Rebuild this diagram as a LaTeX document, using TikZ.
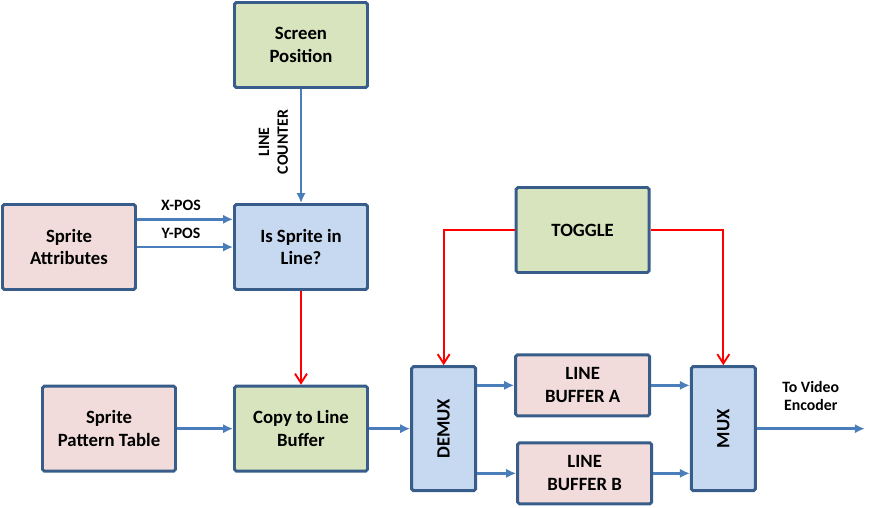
\documentclass[tikz,border=0pt]{standalone}
\usepackage{fontspec}
\setmainfont{Carlito}
\usepackage{graphicx}
\usepackage{tikz}
\usetikzlibrary{positioning,arrows.meta}
\definecolor{edgeblue}{HTML}{385D8A}
\definecolor{wireblue}{HTML}{4A7EBB}
\definecolor{boxgreen}{HTML}{D7E4BD}
\definecolor{boxpink}{HTML}{F2DCDB}
\definecolor{boxblue}{HTML}{C6D9F1}
\definecolor{tglred}{HTML}{FF0000}

\begin{document}
\begin{tikzpicture}[font=\fontsize{16}{19.5}\selectfont\bfseries,on grid,
  blk/.style={draw=edgeblue,line width=2.5pt,rounded corners=1.5pt,minimum width=3.99cm,minimum height=2.55cm,align=center,inner sep=2pt},
  grn/.style={blk,fill=boxgreen},
  pnk/.style={blk,fill=boxpink},
  blu/.style={blk,fill=boxblue},
  mx/.style={blu,minimum width=1.92cm,minimum height=3.72cm},
  buf/.style={pnk,minimum width=4.02cm,minimum height=1.83cm},
  ln/.style={draw=wireblue,line width=2.4pt,-{Latex[length=0.3cm,width=0.28cm]}},
  tg/.style={draw=tglred,line width=1.6pt,-{Straight Barb[length=0.28cm,width=0.36cm]}},
  lbl/.style={font=\fontsize{13.5}{16}\selectfont\bfseries,align=center}]
\useasboundingbox (0,0) rectangle (26.25,-15.21);
\node[grn] (scr) at (9.03,-1.35) {Screen\\Position};
\node[blu,below=6.06cm of scr] (isl) {Is Sprite in\\Line?};
\node[pnk,left=6.96cm of isl] (attr) {Sprite\\Attributes};
\node[grn,above right=0.51cm and 8.45cm of isl] (tog) {TOGGLE};
\node[grn,below=5.45cm of isl] (copy) {Copy to Line\\Buffer};
\node[pnk,left=5.76cm of copy] (pat) {Sprite\\Pattern Table};
\node[mx,right=4.28cm of copy] (demux) {\rotatebox{90}{DEMUX}};
\node[buf,above right=1.3cm and 4.17cm of demux] (lba) {LINE\\BUFFER A};
\node[buf,below right=1.34cm and 4.23cm of demux] (lbb) {LINE\\BUFFER B};
\node[mx,right=8.39cm of demux] (mux) {\rotatebox{90}{MUX}};
\coordinate[right=3.24cm of mux.east] (out);
% signal paths
\draw[ln] (scr) -- node[lbl,pos=0.465,xshift=-0.83cm,rotate=90]{LINE\\COUNTER} (isl);
\draw[ln] ([yshift=0.83cm]attr.east) -- node[lbl,xshift=-0.12cm,yshift=0.42cm]{X-POS} ([yshift=0.83cm]isl.west);
\draw[ln] (attr) -- node[lbl,xshift=-0.12cm,yshift=0.4cm]{Y-POS} (isl);
\draw[tg] (isl) -- (copy);
\draw[ln] (pat) -- (copy);
\draw[ln] (copy) -- (demux);
\draw[tg] (tog.west) -| (demux.north);
\draw[tg] (tog.east) -| (mux.north);
\draw[ln] (demux.east |- lba.west) -- (lba.west);
\draw[ln] (demux.east |- lbb.west) -- (lbb.west);
\draw[ln] (lba.east) -- (mux.west |- lba.east);
\draw[ln] (lbb.east) -- (mux.west |- lbb.east);
\draw[ln] (mux) -- node[lbl,yshift=0.98cm]{To Video\\Encoder} (out);
\end{tikzpicture}
\end{document}
